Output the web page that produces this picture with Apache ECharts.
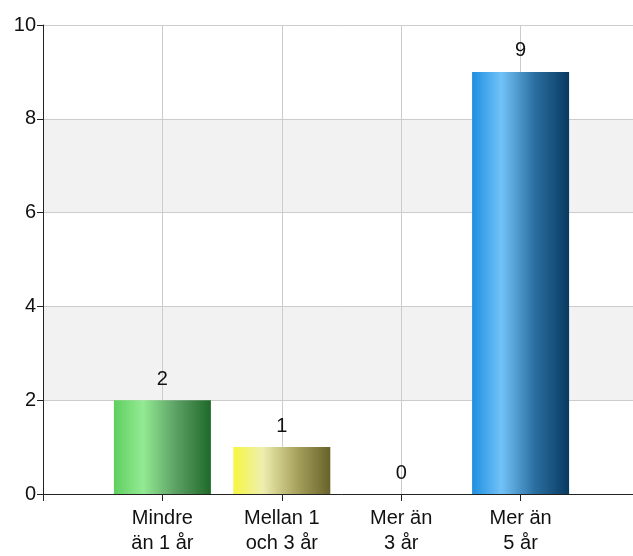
<!DOCTYPE html>
<html>
<head>
<meta charset="utf-8">
<script src="https://cdn.jsdelivr.net/npm/echarts@6/dist/echarts.min.js"></script>
<style>
html,body{margin:0;padding:0;background:#fff;overflow:hidden;width:633px;height:556px;}
#chart{width:643px;height:556px;}
</style>
</head>
<body>
<div id="chart"></div>
<script>
const categories = ["Mindre\nän 1 år", "Mellan 1\noch 3 år", "Mer än\n3 år", "Mer än\n5 år"];
const values = [2, 1, 0, 9];
const yTicks = [0, 2, 4, 6, 8, 10];

const gradients = [
  ['#5fcf5f', '#93ea93', '#5a9e63', '#1f6a28'],
  ['#f6f640', '#efefb0', '#a9a35e', '#67622a'],
  ['#1d8fe0', '#72c2f8', '#2a6ea0', '#083a60']
];
function grad(c) {
  return new echarts.graphic.LinearGradient(0, 0, 1, 0, [
    {offset: 0, color: c[0]},
    {offset: 0.3, color: c[1]},
    {offset: 0.65, color: c[2]},
    {offset: 1, color: c[3]}
  ]);
}
const colorFor = [gradients[0], gradients[1], gradients[1], gradients[2]];

const paddedCats = [''].concat(categories, ['']);
const seriesData = ['-'].concat(values.map((v, i) => ({
  value: v,
  itemStyle: {color: grad(colorFor[i])}
})), ['-']);

const FONT = 'Liberation Sans, Arial, sans-serif';
const chart = echarts.init(document.getElementById('chart'));
chart.setOption({
  animation: false,
  backgroundColor: '#fff',
  grid: {left: 43, right: 0, top: 25, bottom: 57, containLabel: false},
  xAxis: {
    type: 'category',
    data: paddedCats,
    boundaryGap: false,
    axisLine: {lineStyle: {color: '#222', width: 1}},
    axisTick: {show: true, length: 7, lineStyle: {color: '#222'}},
    axisLabel: {
      interval: 0,
      color: '#111',
      fontFamily: FONT,
      fontSize: 20,
      lineHeight: 25,
      margin: 12
    },
    splitLine: {show: true, lineStyle: {color: '#cccccc', width: 1}}
  },
  yAxis: {
    type: 'value',
    min: yTicks[0],
    max: yTicks[yTicks.length - 1],
    interval: 2,
    axisLine: {show: true, lineStyle: {color: '#222', width: 1}},
    axisTick: {show: true, length: 6, lineStyle: {color: '#222'}},
    axisLabel: {
      color: '#111',
      fontFamily: FONT,
      fontSize: 20,
      margin: 7
    },
    splitLine: {show: true, lineStyle: {color: '#cccccc', width: 1}},
    splitArea: {show: true, areaStyle: {color: ['#ffffff', '#f2f2f2']}}
  },
  series: [{
    type: 'bar',
    data: seriesData,
    barWidth: 97,
    label: {
      show: true,
      position: 'top',
      distance: 11,
      color: '#111',
      fontFamily: FONT,
      fontSize: 20
    }
  }]
});
</script>
</body>
</html>
